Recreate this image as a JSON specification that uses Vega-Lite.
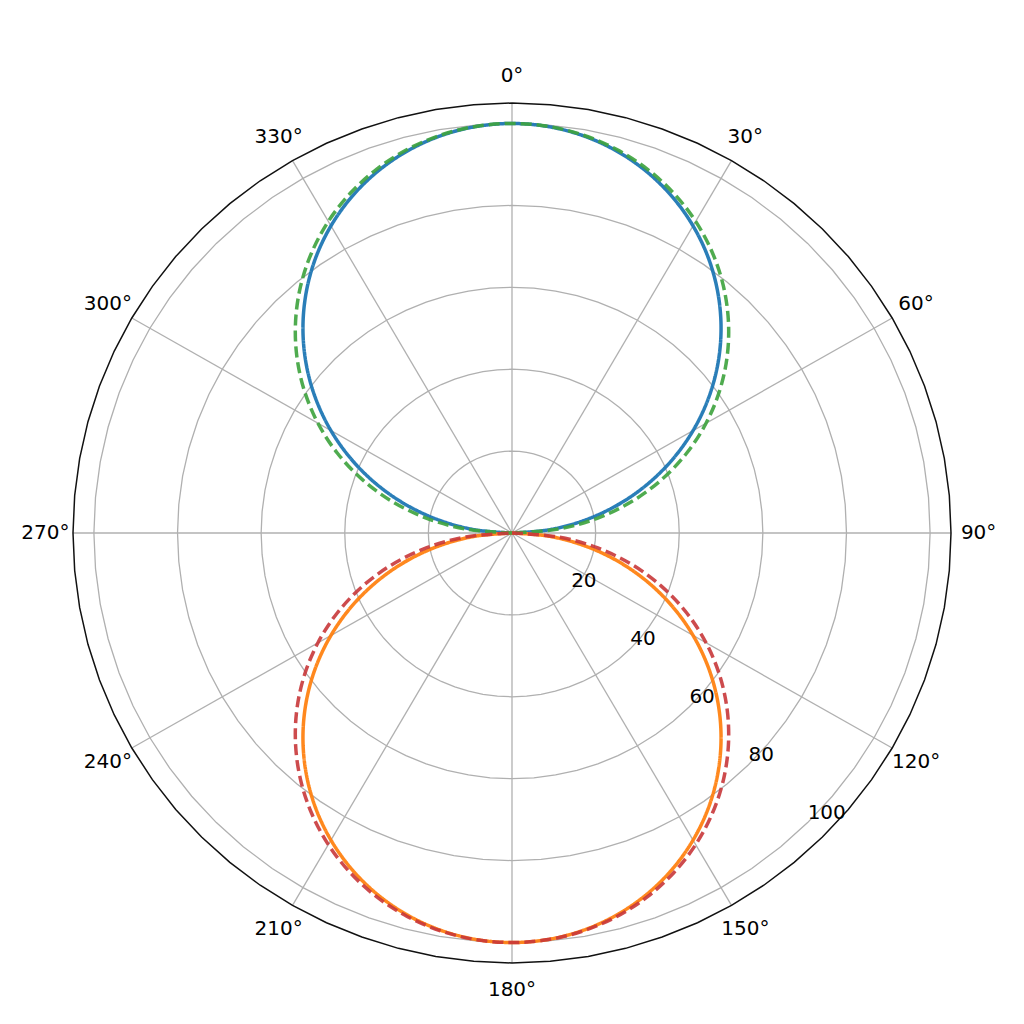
{
  "$schema": "https://vega.github.io/schema/vega-lite/v6.json",
  "width": 878,
  "height": 860,
  "autosize": "none",
  "padding": {"left": 73, "top": 103, "right": 73, "bottom": 61},
  "background": "white",
  "config": {"view": {"stroke": null}},
  "datasets": {
    "pattern": [
      {"s": "blue", "theta": -90, "r": 0},
      {"s": "blue", "theta": -85, "r": 8.72},
      {"s": "blue", "theta": -80, "r": 17.36},
      {"s": "blue", "theta": -75, "r": 25.88},
      {"s": "blue", "theta": -70, "r": 34.2},
      {"s": "blue", "theta": -65, "r": 42.26},
      {"s": "blue", "theta": -60, "r": 50},
      {"s": "blue", "theta": -55, "r": 57.36},
      {"s": "blue", "theta": -50, "r": 64.28},
      {"s": "blue", "theta": -45, "r": 70.71},
      {"s": "blue", "theta": -40, "r": 76.6},
      {"s": "blue", "theta": -35, "r": 81.92},
      {"s": "blue", "theta": -30, "r": 86.6},
      {"s": "blue", "theta": -25, "r": 90.63},
      {"s": "blue", "theta": -20, "r": 93.97},
      {"s": "blue", "theta": -15, "r": 96.59},
      {"s": "blue", "theta": -10, "r": 98.48},
      {"s": "blue", "theta": -5, "r": 99.62},
      {"s": "blue", "theta": 0, "r": 100},
      {"s": "blue", "theta": 5, "r": 99.62},
      {"s": "blue", "theta": 10, "r": 98.48},
      {"s": "blue", "theta": 15, "r": 96.59},
      {"s": "blue", "theta": 20, "r": 93.97},
      {"s": "blue", "theta": 25, "r": 90.63},
      {"s": "blue", "theta": 30, "r": 86.6},
      {"s": "blue", "theta": 35, "r": 81.92},
      {"s": "blue", "theta": 40, "r": 76.6},
      {"s": "blue", "theta": 45, "r": 70.71},
      {"s": "blue", "theta": 50, "r": 64.28},
      {"s": "blue", "theta": 55, "r": 57.36},
      {"s": "blue", "theta": 60, "r": 50},
      {"s": "blue", "theta": 65, "r": 42.26},
      {"s": "blue", "theta": 70, "r": 34.2},
      {"s": "blue", "theta": 75, "r": 25.88},
      {"s": "blue", "theta": 80, "r": 17.36},
      {"s": "blue", "theta": 85, "r": 8.72},
      {"s": "blue", "theta": 90, "r": 0},
      {"s": "orange", "theta": 90, "r": 0},
      {"s": "orange", "theta": 95, "r": 8.72},
      {"s": "orange", "theta": 100, "r": 17.36},
      {"s": "orange", "theta": 105, "r": 25.88},
      {"s": "orange", "theta": 110, "r": 34.2},
      {"s": "orange", "theta": 115, "r": 42.26},
      {"s": "orange", "theta": 120, "r": 50},
      {"s": "orange", "theta": 125, "r": 57.36},
      {"s": "orange", "theta": 130, "r": 64.28},
      {"s": "orange", "theta": 135, "r": 70.71},
      {"s": "orange", "theta": 140, "r": 76.6},
      {"s": "orange", "theta": 145, "r": 81.92},
      {"s": "orange", "theta": 150, "r": 86.6},
      {"s": "orange", "theta": 155, "r": 90.63},
      {"s": "orange", "theta": 160, "r": 93.97},
      {"s": "orange", "theta": 165, "r": 96.59},
      {"s": "orange", "theta": 170, "r": 98.48},
      {"s": "orange", "theta": 175, "r": 99.62},
      {"s": "orange", "theta": 180, "r": 100},
      {"s": "orange", "theta": 185, "r": 99.62},
      {"s": "orange", "theta": 190, "r": 98.48},
      {"s": "orange", "theta": 195, "r": 96.59},
      {"s": "orange", "theta": 200, "r": 93.97},
      {"s": "orange", "theta": 205, "r": 90.63},
      {"s": "orange", "theta": 210, "r": 86.6},
      {"s": "orange", "theta": 215, "r": 81.92},
      {"s": "orange", "theta": 220, "r": 76.6},
      {"s": "orange", "theta": 225, "r": 70.71},
      {"s": "orange", "theta": 230, "r": 64.28},
      {"s": "orange", "theta": 235, "r": 57.36},
      {"s": "orange", "theta": 240, "r": 50},
      {"s": "orange", "theta": 245, "r": 42.26},
      {"s": "orange", "theta": 250, "r": 34.2},
      {"s": "orange", "theta": 255, "r": 25.88},
      {"s": "orange", "theta": 260, "r": 17.36},
      {"s": "orange", "theta": 265, "r": 8.72},
      {"s": "orange", "theta": 270, "r": 0},
      {"s": "green", "theta": -90, "r": 0},
      {"s": "green", "theta": -85, "r": 11.12},
      {"s": "green", "theta": -80, "r": 20.69},
      {"s": "green", "theta": -75, "r": 29.63},
      {"s": "green", "theta": -70, "r": 38.08},
      {"s": "green", "theta": -65, "r": 46.07},
      {"s": "green", "theta": -60, "r": 53.59},
      {"s": "green", "theta": -55, "r": 60.64},
      {"s": "green", "theta": -50, "r": 67.19},
      {"s": "green", "theta": -45, "r": 73.2},
      {"s": "green", "theta": -40, "r": 78.67},
      {"s": "green", "theta": -35, "r": 83.56},
      {"s": "green", "theta": -30, "r": 87.86},
      {"s": "green", "theta": -25, "r": 91.53},
      {"s": "green", "theta": -20, "r": 94.56},
      {"s": "green", "theta": -15, "r": 96.93},
      {"s": "green", "theta": -10, "r": 98.63},
      {"s": "green", "theta": -5, "r": 99.66},
      {"s": "green", "theta": 0, "r": 100},
      {"s": "green", "theta": 5, "r": 99.66},
      {"s": "green", "theta": 10, "r": 98.63},
      {"s": "green", "theta": 15, "r": 96.93},
      {"s": "green", "theta": 20, "r": 94.56},
      {"s": "green", "theta": 25, "r": 91.53},
      {"s": "green", "theta": 30, "r": 87.86},
      {"s": "green", "theta": 35, "r": 83.56},
      {"s": "green", "theta": 40, "r": 78.67},
      {"s": "green", "theta": 45, "r": 73.2},
      {"s": "green", "theta": 50, "r": 67.19},
      {"s": "green", "theta": 55, "r": 60.64},
      {"s": "green", "theta": 60, "r": 53.59},
      {"s": "green", "theta": 65, "r": 46.07},
      {"s": "green", "theta": 70, "r": 38.08},
      {"s": "green", "theta": 75, "r": 29.63},
      {"s": "green", "theta": 80, "r": 20.69},
      {"s": "green", "theta": 85, "r": 11.12},
      {"s": "green", "theta": 90, "r": 0},
      {"s": "red", "theta": 90, "r": 0},
      {"s": "red", "theta": 95, "r": 11.12},
      {"s": "red", "theta": 100, "r": 20.69},
      {"s": "red", "theta": 105, "r": 29.63},
      {"s": "red", "theta": 110, "r": 38.08},
      {"s": "red", "theta": 115, "r": 46.07},
      {"s": "red", "theta": 120, "r": 53.59},
      {"s": "red", "theta": 125, "r": 60.64},
      {"s": "red", "theta": 130, "r": 67.19},
      {"s": "red", "theta": 135, "r": 73.2},
      {"s": "red", "theta": 140, "r": 78.67},
      {"s": "red", "theta": 145, "r": 83.56},
      {"s": "red", "theta": 150, "r": 87.86},
      {"s": "red", "theta": 155, "r": 91.53},
      {"s": "red", "theta": 160, "r": 94.56},
      {"s": "red", "theta": 165, "r": 96.93},
      {"s": "red", "theta": 170, "r": 98.63},
      {"s": "red", "theta": 175, "r": 99.66},
      {"s": "red", "theta": 180, "r": 100},
      {"s": "red", "theta": 185, "r": 99.66},
      {"s": "red", "theta": 190, "r": 98.63},
      {"s": "red", "theta": 195, "r": 96.93},
      {"s": "red", "theta": 200, "r": 94.56},
      {"s": "red", "theta": 205, "r": 91.53},
      {"s": "red", "theta": 210, "r": 87.86},
      {"s": "red", "theta": 215, "r": 83.56},
      {"s": "red", "theta": 220, "r": 78.67},
      {"s": "red", "theta": 225, "r": 73.2},
      {"s": "red", "theta": 230, "r": 67.19},
      {"s": "red", "theta": 235, "r": 60.64},
      {"s": "red", "theta": 240, "r": 53.59},
      {"s": "red", "theta": 245, "r": 46.07},
      {"s": "red", "theta": 250, "r": 38.08},
      {"s": "red", "theta": 255, "r": 29.63},
      {"s": "red", "theta": 260, "r": 20.69},
      {"s": "red", "theta": 265, "r": 11.12},
      {"s": "red", "theta": 270, "r": 0}
    ],
    "rings": [
      {"r": [20, 40, 60, 80, 100, 105], "theta": [0, 5, 10, 15, 20, 25, 30, 35, 40, 45, 50, 55, 60, 65, 70, 75, 80, 85, 90, 95, 100, 105, 110, 115, 120, 125, 130, 135, 140, 145, 150, 155, 160, 165, 170, 175, 180, 185, 190, 195, 200, 205, 210, 215, 220, 225, 230, 235, 240, 245, 250, 255, 260, 265, 270, 275, 280, 285, 290, 295, 300, 305, 310, 315, 320, 325, 330, 335, 340, 345, 350, 355, 360]}
    ],
    "thetaTicks": [
      {"theta": 0, "label": "0°"},
      {"theta": 30, "label": "30°"},
      {"theta": 60, "label": "60°"},
      {"theta": 90, "label": "90°"},
      {"theta": 120, "label": "120°"},
      {"theta": 150, "label": "150°"},
      {"theta": 180, "label": "180°"},
      {"theta": 210, "label": "210°"},
      {"theta": 240, "label": "240°"},
      {"theta": 270, "label": "270°"},
      {"theta": 300, "label": "300°"},
      {"theta": 330, "label": "330°"}
    ],
    "rTicks": [
      {"r": 20, "label": "20"},
      {"r": 40, "label": "40"},
      {"r": 60, "label": "60"},
      {"r": 80, "label": "80"},
      {"r": 100, "label": "100"}
    ]
  },
  "encoding": {
    "x": {"field": "x", "type": "quantitative", "scale": {"domain": [-105, 105], "nice": false, "zero": false}, "axis": null},
    "y": {"field": "y", "type": "quantitative", "scale": {"domain": [-105, 105], "nice": false, "zero": false}, "axis": null}
  },
  "layer": [
    {
      "data": {"name": "rings"},
      "transform": [
        {"flatten": ["theta"]},
        {"flatten": ["r"]},
        {"filter": "datum.r <= 100"},
        {"calculate": "datum.r * sin(datum.theta * PI / 180)", "as": "x"},
        {"calculate": "datum.r * cos(datum.theta * PI / 180)", "as": "y"}
      ],
      "mark": {"type": "line", "stroke": "#b0b0b0", "strokeWidth": 1.3},
      "encoding": {
        "detail": {"field": "r"},
        "order": {"field": "theta", "type": "quantitative"}
      }
    },
    {
      "data": {"name": "thetaTicks"},
      "transform": [
        {"calculate": "0", "as": "x"},
        {"calculate": "0", "as": "y"},
        {"calculate": "105 * sin(datum.theta * PI / 180)", "as": "xe"},
        {"calculate": "105 * cos(datum.theta * PI / 180)", "as": "ye"}
      ],
      "mark": {"type": "rule", "stroke": "#b0b0b0", "strokeWidth": 1.3},
      "encoding": {
        "x2": {"field": "xe"},
        "y2": {"field": "ye"}
      }
    },
    {
      "data": {"name": "rings"},
      "transform": [
        {"flatten": ["theta"]},
        {"flatten": ["r"]},
        {"filter": "datum.r > 100"},
        {"calculate": "datum.r * sin(datum.theta * PI / 180)", "as": "x"},
        {"calculate": "datum.r * cos(datum.theta * PI / 180)", "as": "y"}
      ],
      "mark": {"type": "line", "stroke": "#111111", "strokeWidth": 1.5},
      "encoding": {
        "detail": {"field": "r"},
        "order": {"field": "theta", "type": "quantitative"}
      }
    },
    {
      "data": {"name": "pattern"},
      "transform": [
        {"calculate": "datum.r * sin(datum.theta * PI / 180)", "as": "x"},
        {"calculate": "datum.r * cos(datum.theta * PI / 180)", "as": "y"}
      ],
      "mark": {"type": "line", "strokeWidth": 3.5, "interpolate": "catmull-rom"},
      "encoding": {
        "color": {
          "field": "s",
          "type": "nominal",
          "scale": {"domain": ["blue", "orange", "green", "red"], "range": ["#1f77b4", "#ff7f0e", "#3fa43f", "#c8373a"]},
          "legend": null
        },
        "strokeDash": {
          "field": "s",
          "type": "nominal",
          "scale": {"domain": ["blue", "orange", "green", "red"], "range": [[1, 0], [1, 0], [11, 5], [11, 5]]},
          "legend": null
        },
        "opacity": {
          "field": "s",
          "type": "nominal",
          "scale": {"domain": ["blue", "orange", "green", "red"], "range": [0.95, 0.9, 0.85, 0.9]},
          "legend": null
        },
        "order": {"field": "theta", "type": "quantitative"}
      }
    },
    {
      "data": {"name": "thetaTicks"},
      "transform": [
        {"calculate": "111.6 * sin(datum.theta * PI / 180)", "as": "x"},
        {"calculate": "111.6 * cos(datum.theta * PI / 180)", "as": "y"}
      ],
      "mark": {"type": "text", "font": "DejaVu Sans", "fontSize": 20, "color": "#000000", "align": "center", "baseline": "middle"},
      "encoding": {"text": {"field": "label"}}
    },
    {
      "data": {"name": "rTicks"},
      "transform": [
        {"calculate": "datum.r * sin(135 * PI / 180)", "as": "x"},
        {"calculate": "datum.r * cos(135 * PI / 180)", "as": "y"}
      ],
      "mark": {"type": "text", "font": "DejaVu Sans", "fontSize": 20, "color": "#000000", "align": "left", "baseline": "bottom"},
      "encoding": {"text": {"field": "label"}}
    }
  ]
}
